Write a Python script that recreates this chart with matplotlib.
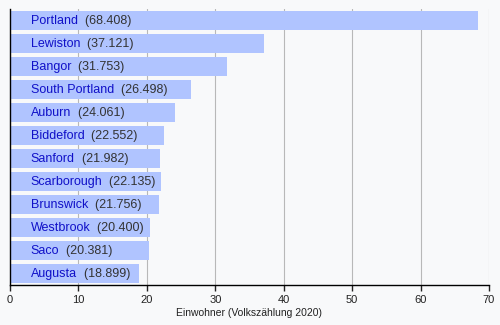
import matplotlib.pyplot as plt

# Einwohnerzahlen (Volkszählung 2020), in Tausend
staedte = ['Portland', 'Lewiston', 'Bangor', 'South Portland', 'Auburn', 'Biddeford',
           'Sanford', 'Scarborough', 'Brunswick', 'Westbrook', 'Saco', 'Augusta']
einwohner = [68408, 37121, 31753, 26498, 24061, 22552,
             21982, 22135, 21756, 20400, 20381, 18899]
x_ticks = [0, 10, 20, 30, 40, 50, 60, 70]

plt.rcParams['font.family'] = ['Liberation Sans', 'DejaVu Sans']

fig = plt.figure(figsize=(5, 3.25), dpi=100, facecolor='#f8f9fa')
ax = fig.add_axes([0.02, 0.123, 0.958, 0.849])
ax.set_facecolor('#f8f9fa')

werte = [e / 1000 for e in einwohner]
pos = list(range(len(staedte)))
ax.barh(pos, werte, height=0.86, color='#b0c4ff', zorder=2)

for i, (name, e) in enumerate(zip(staedte, einwohner)):
    t = ax.text(3.0, i, name, color='#1010c8', fontsize=9, va='center', zorder=3)
    wert = f'{e:,}'.replace(',', '.')
    ax.annotate(f'  ({wert})', xy=(1, 0), xycoords=t, va='bottom',
                color='#333333', fontsize=9, zorder=3)

ax.set_ylim(len(staedte) - 0.5, -0.5)
ax.set_xlim(0, 70)
ax.set_xticks(x_ticks)
ax.set_yticks([])
ax.grid(axis='x', color='#b8b8b8', linewidth=0.8, zorder=1)
ax.tick_params(axis='x', labelsize=8, length=4, width=1, colors='#222222', pad=3)
for s in ['top', 'right']:
    ax.spines[s].set_visible(False)
ax.spines['left'].set_linewidth(1)
ax.spines['bottom'].set_linewidth(1)
ax.set_xlabel('Einwohner (Volkszählung 2020)', fontsize=7.5, color='#222222', labelpad=2)

fig.savefig('out.png', dpi=100, facecolor=fig.get_facecolor())
